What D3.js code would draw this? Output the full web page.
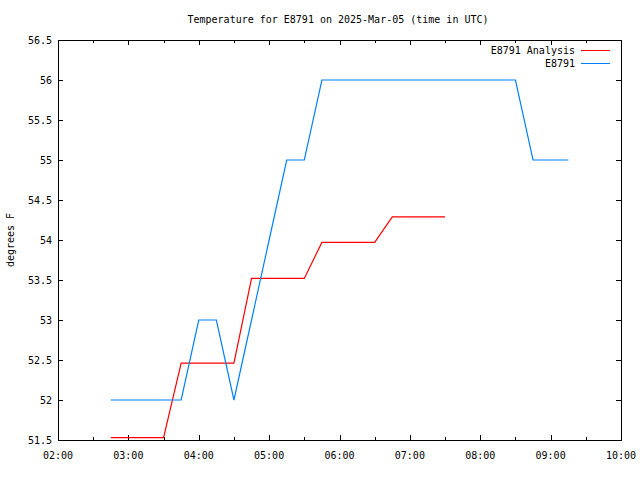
<!DOCTYPE html>
<html><head><meta charset="utf-8">
<script src="https://cdn.jsdelivr.net/npm/d3@7"></script>
<style>
html,body{margin:0;padding:0;background:#fff;}
text{font-family:"DejaVu Sans Mono","Liberation Mono",monospace;font-size:10px;fill:#000;}
</style></head>
<body><svg id="c" width="640" height="480"></svg>
<script>
const titleText = "Temperature for E8791 on 2025-Mar-05 (time in UTC)";
const yLabel = "degrees F";
const seriesNames = ["E8791 Analysis", "E8791"];
const seriesColors = ["#ff0000", "#0080ff"];
const analysisTimes = ["02:45","03:00","03:15","03:30","03:45","04:00","04:15","04:30","04:45","05:00","05:15","05:30","05:45","06:00","06:15","06:30","06:45","07:00","07:15","07:30"];
const analysisValues = [51.53,51.53,51.53,51.53,52.46,52.46,52.46,52.46,53.52,53.52,53.52,53.52,53.97,53.97,53.97,53.97,54.29,54.29,54.29,54.29];
const obsTimes = ["02:45","03:00","03:15","03:30","03:45","04:00","04:15","04:30","04:45","05:00","05:15","05:30","05:45","06:00","06:15","06:30","06:45","07:00","07:15","07:30","07:45","08:00","08:15","08:30","08:45","09:00","09:15"];
const obsValues = [52,52,52,52,52,53,53,52,53,54,55,55,56,56,56,56,56,56,56,56,56,56,56,56,55,55,55];
const xTickLabels = ["02:00","03:00","04:00","05:00","06:00","07:00","08:00","09:00","10:00"];
const yTickValues = [51.5,52,52.5,53,53.5,54,54.5,55,55.5,56,56.5];

const day = "2025-03-05T";
const parseT = s => new Date(day + s + ":00Z");
const L = 58, R = 621, T = 40, B = 440;
const svg = d3.select("#c");
const x = d3.scaleUtc().domain([parseT("02:00"), parseT("10:00")]).range([L, R]);
const y = d3.scaleLinear().domain([51.5, 56.5]).range([B, T]);

const xMajor = xTickLabels.map(parseT);
const xMinor = d3.utcMinute.every(30).range(parseT("02:00"), parseT("10:00")).filter(d => d.getUTCMinutes() === 30);

// ticks
const g = svg.append("g").attr("shape-rendering","crispEdges");
function tickLines(vals, fn, len) {
  vals.forEach(v => {
    const p = fn(v);
    g.append("line").attr("x1",p+0.5).attr("x2",p+0.5).attr("y1",B).attr("y2",B-len).attr("stroke","#000");
    g.append("line").attr("x1",p+0.5).attr("x2",p+0.5).attr("y1",T).attr("y2",T+len).attr("stroke","#000");
  });
}
tickLines(xMajor.map(d=>Math.round(x(d))), v=>v, 5);
tickLines(xMinor.map(d=>Math.round(x(d))), v=>v, 3);
yTickValues.forEach(v => {
  const p = Math.round(y(v)) + 0.5;
  g.append("line").attr("x1",L).attr("x2",L+5).attr("y1",p).attr("y2",p).attr("stroke","#000");
  g.append("line").attr("x1",R-5).attr("x2",R).attr("y1",p).attr("y2",p).attr("stroke","#000");
});
g.append("rect").attr("x",L+0.5).attr("y",T+0.5).attr("width",R-L).attr("height",B-T)
  .attr("fill","none").attr("stroke","#000");

// tick labels
yTickValues.forEach(v => {
  svg.append("text").attr("x", L-6).attr("y", y(v)+4).attr("text-anchor","end").text(d3.format("")(v));
});
xMajor.forEach((d,i) => {
  svg.append("text").attr("x", x(d)).attr("y", B+19).attr("text-anchor","middle").text(xTickLabels[i]);
});

svg.append("text").attr("x", 338).attr("y", 23).attr("text-anchor","middle").text(titleText);
svg.append("text").attr("transform","translate(14,240) rotate(-90)").attr("text-anchor","middle").text(yLabel);

// lines
const line = d3.line().x(d=>x(d[0])).y(d=>y(d[1]));
const sets = [
  analysisTimes.map((t,i)=>[parseT(t), analysisValues[i]]),
  obsTimes.map((t,i)=>[parseT(t), obsValues[i]])
];
sets.forEach((s,i) => {
  svg.append("path").datum(s).attr("d", line).attr("fill","none")
    .attr("stroke", seriesColors[i]).attr("stroke-width",1.2);
});

// legend
seriesNames.forEach((n,i) => {
  const yy = 50 + i*13;
  svg.append("text").attr("x", 575).attr("y", yy+4).attr("text-anchor","end").text(n);
  svg.append("line").attr("x1",581).attr("x2",610).attr("y1",yy+0.5).attr("y2",yy+0.5)
    .attr("stroke", seriesColors[i]).attr("shape-rendering","crispEdges");
});
</script></body></html>
